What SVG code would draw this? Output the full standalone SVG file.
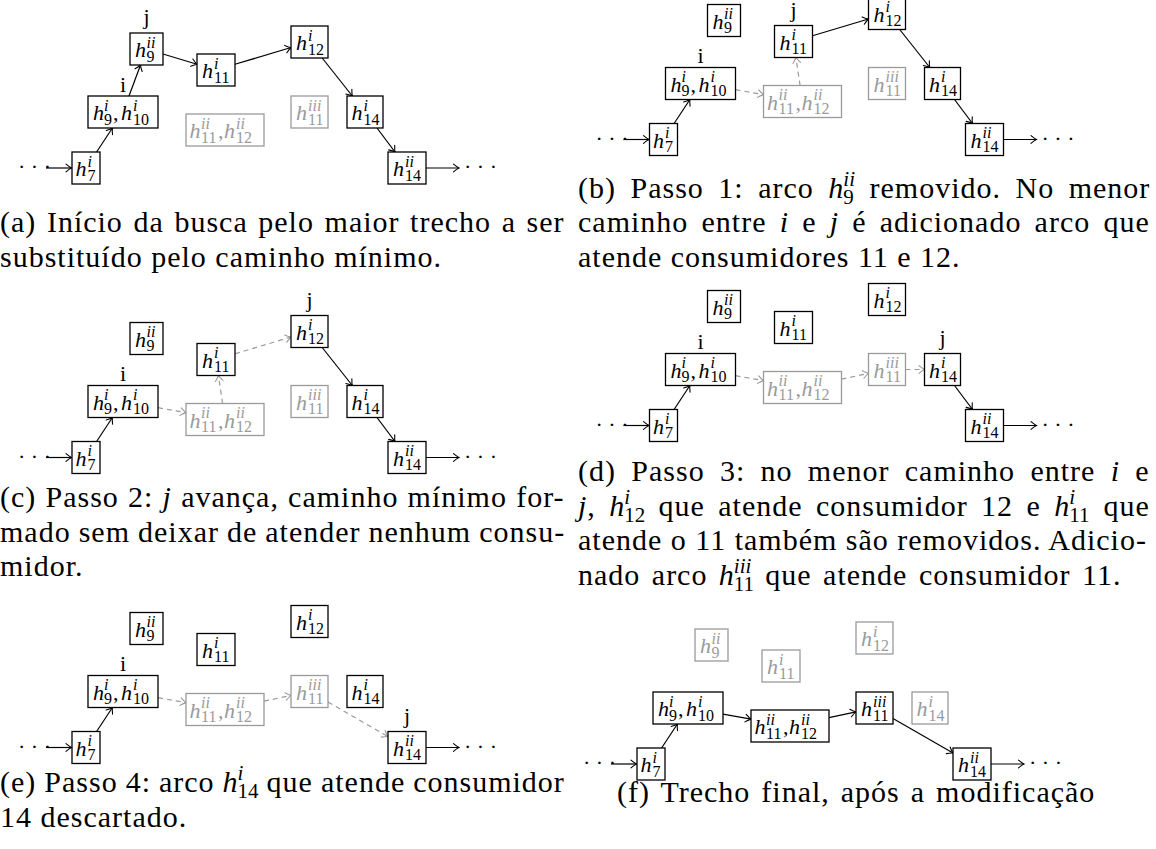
<svg xmlns="http://www.w3.org/2000/svg" width="1156" height="849" viewBox="0 0 1156 849" font-family="Liberation Serif">
<style>
text{font-family:'Liberation Serif'}
.k{color:#000}
.g{color:#9a9a9a}
.bx{fill:#fff;stroke:currentColor;stroke-width:1.3}
.n{font-size:22px;font-style:italic;fill:currentColor}
.sp{font-size:16px;font-style:italic}
.sb{font-size:16px;font-style:normal}
.up{font-style:normal}
.lb{font-size:22px;text-anchor:middle;fill:#000}
.dots{font-size:22px;fill:#000}
.e{fill:none;stroke:#000;stroke-width:1.2;marker-end:url(#ah)}
.ed{fill:none;stroke:#9a9a9a;stroke-width:1.2;stroke-dasharray:5 4;marker-end:url(#gah)}
.cap{font-size:30px;fill:#000;letter-spacing:1px}
.ci{font-style:italic}
.cm{font-size:30px;font-style:italic;fill:#000}
.cs{font-size:21px;font-style:italic;fill:#000}
.cd{font-size:21px;fill:#000}
</style>
<defs>
<marker id="ah" markerUnits="userSpaceOnUse" viewBox="-8 -6 10 12" markerWidth="10" markerHeight="12" refX="0" refY="0" orient="auto" overflow="visible">
<path d="M-5.5,-3.8 Q-2,-0.9 0,0 Q-2,0.9 -5.5,3.8" fill="none" stroke="#000" stroke-width="1.1" stroke-linecap="round"/>
</marker>
<marker id="gah" markerUnits="userSpaceOnUse" viewBox="-8 -6 10 12" markerWidth="10" markerHeight="12" refX="0" refY="0" orient="auto" overflow="visible">
<path d="M-5.5,-3.8 Q-2,-0.9 0,0 Q-2,0.9 -5.5,3.8" fill="none" stroke="#9a9a9a" stroke-width="1.1" stroke-linecap="round"/>
</marker>
</defs>

<!-- Panel (a) -->
<g id="panel-a">
<g id="a-edges">
<path class="e" d="M46,168 H71.5"/>
<path class="e" d="M96.6,152 L112.4,128"/>
<path class="e" d="M129,96 L140.5,65"/>
<path class="e" d="M163,54 L197,64.3"/>
<path class="e" d="M235,64.3 L291,47.5"/>
<path class="e" d="M322.2,58 L352.3,96"/>
<path class="e" d="M377,128 L395,152"/>
<path class="e" d="M426,168 H459"/>
</g>
<text class="dots" font-family="Liberation Serif" x="18" y="174">· · ·</text>
<text class="dots" font-family="Liberation Serif" x="464" y="174">· · ·</text>
<g id="a-h7" class="k" transform="translate(72 152)"><rect class="bx" width="28" height="32"/><text class="n" font-family="Liberation Serif" x="3.5" y="24">h<tspan class="sp" x="15.5" y="14.5">i</tspan><tspan class="sb" x="15.5" y="28.5">7</tspan></text></g>
<g id="a-h9h10" class="k" transform="translate(88 96)"><rect class="bx" width="70" height="32"/><text class="n" font-family="Liberation Serif" x="5" y="24">h<tspan class="sp" x="16" y="14.5">i</tspan><tspan class="sb" x="16" y="28.5">9</tspan><tspan class="up" x="25" y="24">,</tspan><tspan x="33" y="24">h</tspan><tspan class="sp" x="45" y="14.5">i</tspan><tspan class="sb" x="45" y="28.5">10</tspan></text></g>
<g id="a-h9ii" class="k" transform="translate(130 33)"><rect class="bx" width="33" height="32"/><text class="n" font-family="Liberation Serif" x="5" y="24">h<tspan class="sp" x="16.5" y="14.5">ii</tspan><tspan class="sb" x="16.5" y="28.5">9</tspan></text></g>
<g id="a-h11i" class="k" transform="translate(197 54)"><rect class="bx" width="38" height="32"/><text class="n" font-family="Liberation Serif" x="5" y="24">h<tspan class="sp" x="17" y="14.5">i</tspan><tspan class="sb" x="17" y="28.5">11</tspan></text></g>
<g id="a-h11h12" class="g" transform="translate(186 114)"><rect class="bx" width="78" height="32"/><text class="n" font-family="Liberation Serif" x="3.5" y="24">h<tspan class="sp" x="15" y="14.5">ii</tspan><tspan class="sb" x="15" y="28.5">11</tspan><tspan class="up" x="32" y="24">,</tspan><tspan x="38" y="24">h</tspan><tspan class="sp" x="50" y="14.5">ii</tspan><tspan class="sb" x="50" y="28.5">12</tspan></text></g>
<g id="a-h12i" class="k" transform="translate(291 26)"><rect class="bx" width="37" height="32"/><text class="n" font-family="Liberation Serif" x="5" y="24">h<tspan class="sp" x="17" y="14.5">i</tspan><tspan class="sb" x="17" y="28.5">12</tspan></text></g>
<g id="a-h11iii" class="g" transform="translate(291 96)"><rect class="bx" width="37" height="32"/><text class="n" font-family="Liberation Serif" x="5" y="24">h<tspan class="sp" x="17" y="14.5">iii</tspan><tspan class="sb" x="17" y="28.5">11</tspan></text></g>
<g id="a-h14i" class="k" transform="translate(347 96)"><rect class="bx" width="36" height="32"/><text class="n" font-family="Liberation Serif" x="4.5" y="24">h<tspan class="sp" x="16.5" y="14.5">i</tspan><tspan class="sb" x="16.5" y="28.5">14</tspan></text></g>
<g id="a-h14ii" class="k" transform="translate(388 152)"><rect class="bx" width="38" height="32"/><text class="n" font-family="Liberation Serif" x="5" y="24">h<tspan class="sp" x="17" y="14.5">ii</tspan><tspan class="sb" x="17" y="28.5">14</tspan></text></g>
<text class="lb" font-family="Liberation Serif" x="123" y="91.5">i</text>
<text class="lb" font-family="Liberation Serif" x="146.5" y="24">j</text>
</g>

<!-- Panel (b) -->
<g id="panel-b" transform="translate(577.5,-28.5)">
<g id="b-edges">
<path class="e" d="M46,168 H71.5"/>
<path class="e" d="M96.6,152 L112.4,128"/>
<path class="ed" d="M158,118.2 L186,123.1"/>
<path class="ed" d="M222.6,114 L218.4,86"/>
<path class="e" d="M235,64.3 L291,47.5"/>
<path class="e" d="M322.2,58 L352.3,96"/>
<path class="e" d="M377,128 L395,152"/>
<path class="e" d="M426,168 H459"/>
</g>
<text class="dots" font-family="Liberation Serif" x="18" y="174">· · ·</text>
<text class="dots" font-family="Liberation Serif" x="464" y="174">· · ·</text>
<g id="b-h7" class="k" transform="translate(72 152)"><rect class="bx" width="28" height="32"/><text class="n" font-family="Liberation Serif" x="3.5" y="24">h<tspan class="sp" x="15.5" y="14.5">i</tspan><tspan class="sb" x="15.5" y="28.5">7</tspan></text></g>
<g id="b-h9h10" class="k" transform="translate(88 96)"><rect class="bx" width="70" height="32"/><text class="n" font-family="Liberation Serif" x="5" y="24">h<tspan class="sp" x="16" y="14.5">i</tspan><tspan class="sb" x="16" y="28.5">9</tspan><tspan class="up" x="25" y="24">,</tspan><tspan x="33" y="24">h</tspan><tspan class="sp" x="45" y="14.5">i</tspan><tspan class="sb" x="45" y="28.5">10</tspan></text></g>
<g id="b-h9ii" class="k" transform="translate(130 33)"><rect class="bx" width="33" height="32"/><text class="n" font-family="Liberation Serif" x="5" y="24">h<tspan class="sp" x="16.5" y="14.5">ii</tspan><tspan class="sb" x="16.5" y="28.5">9</tspan></text></g>
<g id="b-h11i" class="k" transform="translate(197 54)"><rect class="bx" width="38" height="32"/><text class="n" font-family="Liberation Serif" x="5" y="24">h<tspan class="sp" x="17" y="14.5">i</tspan><tspan class="sb" x="17" y="28.5">11</tspan></text></g>
<g id="b-h11h12" class="g" transform="translate(186 114)"><rect class="bx" width="78" height="32"/><text class="n" font-family="Liberation Serif" x="3.5" y="24">h<tspan class="sp" x="15" y="14.5">ii</tspan><tspan class="sb" x="15" y="28.5">11</tspan><tspan class="up" x="32" y="24">,</tspan><tspan x="38" y="24">h</tspan><tspan class="sp" x="50" y="14.5">ii</tspan><tspan class="sb" x="50" y="28.5">12</tspan></text></g>
<g id="b-h12i" class="k" transform="translate(291 26)"><rect class="bx" width="37" height="32"/><text class="n" font-family="Liberation Serif" x="5" y="24">h<tspan class="sp" x="17" y="14.5">i</tspan><tspan class="sb" x="17" y="28.5">12</tspan></text></g>
<g id="b-h11iii" class="g" transform="translate(291 96)"><rect class="bx" width="37" height="32"/><text class="n" font-family="Liberation Serif" x="5" y="24">h<tspan class="sp" x="17" y="14.5">iii</tspan><tspan class="sb" x="17" y="28.5">11</tspan></text></g>
<g id="b-h14i" class="k" transform="translate(347 96)"><rect class="bx" width="36" height="32"/><text class="n" font-family="Liberation Serif" x="4.5" y="24">h<tspan class="sp" x="16.5" y="14.5">i</tspan><tspan class="sb" x="16.5" y="28.5">14</tspan></text></g>
<g id="b-h14ii" class="k" transform="translate(388 152)"><rect class="bx" width="38" height="32"/><text class="n" font-family="Liberation Serif" x="5" y="24">h<tspan class="sp" x="17" y="14.5">ii</tspan><tspan class="sb" x="17" y="28.5">14</tspan></text></g>
<text class="lb" font-family="Liberation Serif" x="123" y="91.5">i</text>
<text class="lb" font-family="Liberation Serif" x="216" y="45">j</text>
</g>

<!-- Panel (c) -->
<g id="panel-c" transform="translate(0,289.5)">
<g id="c-edges">
<path class="e" d="M46,168 H71.5"/>
<path class="e" d="M96.6,152 L112.4,128"/>
<path class="ed" d="M158,118.2 L186,123.1"/>
<path class="ed" d="M222.6,114 L218.4,86"/>
<path class="ed" d="M235,64.3 L291,47.5"/>
<path class="e" d="M322.2,58 L352.3,96"/>
<path class="e" d="M377,128 L395,152"/>
<path class="e" d="M426,168 H459"/>
</g>
<text class="dots" font-family="Liberation Serif" x="18" y="174">· · ·</text>
<text class="dots" font-family="Liberation Serif" x="464" y="174">· · ·</text>
<g id="c-h7" class="k" transform="translate(72 152)"><rect class="bx" width="28" height="32"/><text class="n" font-family="Liberation Serif" x="3.5" y="24">h<tspan class="sp" x="15.5" y="14.5">i</tspan><tspan class="sb" x="15.5" y="28.5">7</tspan></text></g>
<g id="c-h9h10" class="k" transform="translate(88 96)"><rect class="bx" width="70" height="32"/><text class="n" font-family="Liberation Serif" x="5" y="24">h<tspan class="sp" x="16" y="14.5">i</tspan><tspan class="sb" x="16" y="28.5">9</tspan><tspan class="up" x="25" y="24">,</tspan><tspan x="33" y="24">h</tspan><tspan class="sp" x="45" y="14.5">i</tspan><tspan class="sb" x="45" y="28.5">10</tspan></text></g>
<g id="c-h9ii" class="k" transform="translate(130 33)"><rect class="bx" width="33" height="32"/><text class="n" font-family="Liberation Serif" x="5" y="24">h<tspan class="sp" x="16.5" y="14.5">ii</tspan><tspan class="sb" x="16.5" y="28.5">9</tspan></text></g>
<g id="c-h11i" class="k" transform="translate(197 54)"><rect class="bx" width="38" height="32"/><text class="n" font-family="Liberation Serif" x="5" y="24">h<tspan class="sp" x="17" y="14.5">i</tspan><tspan class="sb" x="17" y="28.5">11</tspan></text></g>
<g id="c-h11h12" class="g" transform="translate(186 114)"><rect class="bx" width="78" height="32"/><text class="n" font-family="Liberation Serif" x="3.5" y="24">h<tspan class="sp" x="15" y="14.5">ii</tspan><tspan class="sb" x="15" y="28.5">11</tspan><tspan class="up" x="32" y="24">,</tspan><tspan x="38" y="24">h</tspan><tspan class="sp" x="50" y="14.5">ii</tspan><tspan class="sb" x="50" y="28.5">12</tspan></text></g>
<g id="c-h12i" class="k" transform="translate(291 26)"><rect class="bx" width="37" height="32"/><text class="n" font-family="Liberation Serif" x="5" y="24">h<tspan class="sp" x="17" y="14.5">i</tspan><tspan class="sb" x="17" y="28.5">12</tspan></text></g>
<g id="c-h11iii" class="g" transform="translate(291 96)"><rect class="bx" width="37" height="32"/><text class="n" font-family="Liberation Serif" x="5" y="24">h<tspan class="sp" x="17" y="14.5">iii</tspan><tspan class="sb" x="17" y="28.5">11</tspan></text></g>
<g id="c-h14i" class="k" transform="translate(347 96)"><rect class="bx" width="36" height="32"/><text class="n" font-family="Liberation Serif" x="4.5" y="24">h<tspan class="sp" x="16.5" y="14.5">i</tspan><tspan class="sb" x="16.5" y="28.5">14</tspan></text></g>
<g id="c-h14ii" class="k" transform="translate(388 152)"><rect class="bx" width="38" height="32"/><text class="n" font-family="Liberation Serif" x="5" y="24">h<tspan class="sp" x="17" y="14.5">ii</tspan><tspan class="sb" x="17" y="28.5">14</tspan></text></g>
<text class="lb" font-family="Liberation Serif" x="123" y="91.5">i</text>
<text class="lb" font-family="Liberation Serif" x="309.5" y="17">j</text>
</g>

<!-- Panel (d) -->
<g id="panel-d" transform="translate(577.5,257.5)">
<g id="d-edges">
<path class="e" d="M46,168 H71.5"/>
<path class="e" d="M96.6,152 L112.4,128"/>
<path class="ed" d="M158,118.2 L186,123.1"/>
<path class="ed" d="M264,121.7 L291,115.9"/>
<path class="ed" d="M328,112 L347,112"/>
<path class="e" d="M377,128 L395,152"/>
<path class="e" d="M426,168 H459"/>
</g>
<text class="dots" font-family="Liberation Serif" x="18" y="174">· · ·</text>
<text class="dots" font-family="Liberation Serif" x="464" y="174">· · ·</text>
<g id="d-h7" class="k" transform="translate(72 152)"><rect class="bx" width="28" height="32"/><text class="n" font-family="Liberation Serif" x="3.5" y="24">h<tspan class="sp" x="15.5" y="14.5">i</tspan><tspan class="sb" x="15.5" y="28.5">7</tspan></text></g>
<g id="d-h9h10" class="k" transform="translate(88 96)"><rect class="bx" width="70" height="32"/><text class="n" font-family="Liberation Serif" x="5" y="24">h<tspan class="sp" x="16" y="14.5">i</tspan><tspan class="sb" x="16" y="28.5">9</tspan><tspan class="up" x="25" y="24">,</tspan><tspan x="33" y="24">h</tspan><tspan class="sp" x="45" y="14.5">i</tspan><tspan class="sb" x="45" y="28.5">10</tspan></text></g>
<g id="d-h9ii" class="k" transform="translate(130 33)"><rect class="bx" width="33" height="32"/><text class="n" font-family="Liberation Serif" x="5" y="24">h<tspan class="sp" x="16.5" y="14.5">ii</tspan><tspan class="sb" x="16.5" y="28.5">9</tspan></text></g>
<g id="d-h11i" class="k" transform="translate(197 54)"><rect class="bx" width="38" height="32"/><text class="n" font-family="Liberation Serif" x="5" y="24">h<tspan class="sp" x="17" y="14.5">i</tspan><tspan class="sb" x="17" y="28.5">11</tspan></text></g>
<g id="d-h11h12" class="g" transform="translate(186 114)"><rect class="bx" width="78" height="32"/><text class="n" font-family="Liberation Serif" x="3.5" y="24">h<tspan class="sp" x="15" y="14.5">ii</tspan><tspan class="sb" x="15" y="28.5">11</tspan><tspan class="up" x="32" y="24">,</tspan><tspan x="38" y="24">h</tspan><tspan class="sp" x="50" y="14.5">ii</tspan><tspan class="sb" x="50" y="28.5">12</tspan></text></g>
<g id="d-h12i" class="k" transform="translate(291 26)"><rect class="bx" width="37" height="32"/><text class="n" font-family="Liberation Serif" x="5" y="24">h<tspan class="sp" x="17" y="14.5">i</tspan><tspan class="sb" x="17" y="28.5">12</tspan></text></g>
<g id="d-h11iii" class="g" transform="translate(291 96)"><rect class="bx" width="37" height="32"/><text class="n" font-family="Liberation Serif" x="5" y="24">h<tspan class="sp" x="17" y="14.5">iii</tspan><tspan class="sb" x="17" y="28.5">11</tspan></text></g>
<g id="d-h14i" class="k" transform="translate(347 96)"><rect class="bx" width="36" height="32"/><text class="n" font-family="Liberation Serif" x="4.5" y="24">h<tspan class="sp" x="16.5" y="14.5">i</tspan><tspan class="sb" x="16.5" y="28.5">14</tspan></text></g>
<g id="d-h14ii" class="k" transform="translate(388 152)"><rect class="bx" width="38" height="32"/><text class="n" font-family="Liberation Serif" x="5" y="24">h<tspan class="sp" x="17" y="14.5">ii</tspan><tspan class="sb" x="17" y="28.5">14</tspan></text></g>
<text class="lb" font-family="Liberation Serif" x="123" y="91.5">i</text>
<text class="lb" font-family="Liberation Serif" x="365" y="87">j</text>
</g>

<!-- Panel (e) -->
<g id="panel-e" transform="translate(0,579.5)">
<g id="e-edges">
<path class="e" d="M46,168 H71.5"/>
<path class="e" d="M96.6,152 L112.4,128"/>
<path class="ed" d="M158,118.2 L186,123.1"/>
<path class="ed" d="M264,121.7 L291,115.9"/>
<path class="ed" d="M328,122.6 L388,157.1"/>
<path class="e" d="M426,168 H459"/>
</g>
<text class="dots" font-family="Liberation Serif" x="18" y="174">· · ·</text>
<text class="dots" font-family="Liberation Serif" x="464" y="174">· · ·</text>
<g id="e-h7" class="k" transform="translate(72 152)"><rect class="bx" width="28" height="32"/><text class="n" font-family="Liberation Serif" x="3.5" y="24">h<tspan class="sp" x="15.5" y="14.5">i</tspan><tspan class="sb" x="15.5" y="28.5">7</tspan></text></g>
<g id="e-h9h10" class="k" transform="translate(88 96)"><rect class="bx" width="70" height="32"/><text class="n" font-family="Liberation Serif" x="5" y="24">h<tspan class="sp" x="16" y="14.5">i</tspan><tspan class="sb" x="16" y="28.5">9</tspan><tspan class="up" x="25" y="24">,</tspan><tspan x="33" y="24">h</tspan><tspan class="sp" x="45" y="14.5">i</tspan><tspan class="sb" x="45" y="28.5">10</tspan></text></g>
<g id="e-h9ii" class="k" transform="translate(130 33)"><rect class="bx" width="33" height="32"/><text class="n" font-family="Liberation Serif" x="5" y="24">h<tspan class="sp" x="16.5" y="14.5">ii</tspan><tspan class="sb" x="16.5" y="28.5">9</tspan></text></g>
<g id="e-h11i" class="k" transform="translate(197 54)"><rect class="bx" width="38" height="32"/><text class="n" font-family="Liberation Serif" x="5" y="24">h<tspan class="sp" x="17" y="14.5">i</tspan><tspan class="sb" x="17" y="28.5">11</tspan></text></g>
<g id="e-h11h12" class="g" transform="translate(186 114)"><rect class="bx" width="78" height="32"/><text class="n" font-family="Liberation Serif" x="3.5" y="24">h<tspan class="sp" x="15" y="14.5">ii</tspan><tspan class="sb" x="15" y="28.5">11</tspan><tspan class="up" x="32" y="24">,</tspan><tspan x="38" y="24">h</tspan><tspan class="sp" x="50" y="14.5">ii</tspan><tspan class="sb" x="50" y="28.5">12</tspan></text></g>
<g id="e-h12i" class="k" transform="translate(291 26)"><rect class="bx" width="37" height="32"/><text class="n" font-family="Liberation Serif" x="5" y="24">h<tspan class="sp" x="17" y="14.5">i</tspan><tspan class="sb" x="17" y="28.5">12</tspan></text></g>
<g id="e-h11iii" class="g" transform="translate(291 96)"><rect class="bx" width="37" height="32"/><text class="n" font-family="Liberation Serif" x="5" y="24">h<tspan class="sp" x="17" y="14.5">iii</tspan><tspan class="sb" x="17" y="28.5">11</tspan></text></g>
<g id="e-h14i" class="k" transform="translate(347 96)"><rect class="bx" width="36" height="32"/><text class="n" font-family="Liberation Serif" x="4.5" y="24">h<tspan class="sp" x="16.5" y="14.5">i</tspan><tspan class="sb" x="16.5" y="28.5">14</tspan></text></g>
<g id="e-h14ii" class="k" transform="translate(388 152)"><rect class="bx" width="38" height="32"/><text class="n" font-family="Liberation Serif" x="5" y="24">h<tspan class="sp" x="17" y="14.5">ii</tspan><tspan class="sb" x="17" y="28.5">14</tspan></text></g>
<text class="lb" font-family="Liberation Serif" x="123" y="91.5">i</text>
<text class="lb" font-family="Liberation Serif" x="407" y="143">j</text>
</g>

<!-- Panel (f) -->
<g id="panel-f" transform="translate(565,596)">
<g id="f-edges">
<path class="e" d="M46,168 H71.5"/>
<path class="e" d="M96.6,152 L112.4,128"/>
<path class="e" d="M158,118.2 L186,123.1"/>
<path class="e" d="M264,121.7 L291,115.9"/>
<path class="e" d="M328,122.6 L388,157.1"/>
<path class="e" d="M426,168 H459"/>
</g>
<text class="dots" font-family="Liberation Serif" x="18" y="174">· · ·</text>
<text class="dots" font-family="Liberation Serif" x="464" y="174">· · ·</text>
<g id="f-h7" class="k" transform="translate(72 152)"><rect class="bx" width="28" height="32"/><text class="n" font-family="Liberation Serif" x="3.5" y="24">h<tspan class="sp" x="15.5" y="14.5">i</tspan><tspan class="sb" x="15.5" y="28.5">7</tspan></text></g>
<g id="f-h9h10" class="k" transform="translate(88 96)"><rect class="bx" width="70" height="32"/><text class="n" font-family="Liberation Serif" x="5" y="24">h<tspan class="sp" x="16" y="14.5">i</tspan><tspan class="sb" x="16" y="28.5">9</tspan><tspan class="up" x="25" y="24">,</tspan><tspan x="33" y="24">h</tspan><tspan class="sp" x="45" y="14.5">i</tspan><tspan class="sb" x="45" y="28.5">10</tspan></text></g>
<g id="f-h9ii" class="g" transform="translate(130 33)"><rect class="bx" width="33" height="32"/><text class="n" font-family="Liberation Serif" x="5" y="24">h<tspan class="sp" x="16.5" y="14.5">ii</tspan><tspan class="sb" x="16.5" y="28.5">9</tspan></text></g>
<g id="f-h11i" class="g" transform="translate(197 54)"><rect class="bx" width="38" height="32"/><text class="n" font-family="Liberation Serif" x="5" y="24">h<tspan class="sp" x="17" y="14.5">i</tspan><tspan class="sb" x="17" y="28.5">11</tspan></text></g>
<g id="f-h11h12" class="k" transform="translate(186 114)"><rect class="bx" width="78" height="32"/><text class="n" font-family="Liberation Serif" x="3.5" y="24">h<tspan class="sp" x="15" y="14.5">ii</tspan><tspan class="sb" x="15" y="28.5">11</tspan><tspan class="up" x="32" y="24">,</tspan><tspan x="38" y="24">h</tspan><tspan class="sp" x="50" y="14.5">ii</tspan><tspan class="sb" x="50" y="28.5">12</tspan></text></g>
<g id="f-h12i" class="g" transform="translate(291 26)"><rect class="bx" width="37" height="32"/><text class="n" font-family="Liberation Serif" x="5" y="24">h<tspan class="sp" x="17" y="14.5">i</tspan><tspan class="sb" x="17" y="28.5">12</tspan></text></g>
<g id="f-h11iii" class="k" transform="translate(291 96)"><rect class="bx" width="37" height="32"/><text class="n" font-family="Liberation Serif" x="5" y="24">h<tspan class="sp" x="17" y="14.5">iii</tspan><tspan class="sb" x="17" y="28.5">11</tspan></text></g>
<g id="f-h14i" class="g" transform="translate(347 96)"><rect class="bx" width="36" height="32"/><text class="n" font-family="Liberation Serif" x="4.5" y="24">h<tspan class="sp" x="16.5" y="14.5">i</tspan><tspan class="sb" x="16.5" y="28.5">14</tspan></text></g>
<g id="f-h14ii" class="k" transform="translate(388 152)"><rect class="bx" width="38" height="32"/><text class="n" font-family="Liberation Serif" x="5" y="24">h<tspan class="sp" x="17" y="14.5">ii</tspan><tspan class="sb" x="17" y="28.5">14</tspan></text></g>
</g>

<!-- Captions -->
<g id="captions">
<text class="cap" font-family="Liberation Serif" x="0" y="232" word-spacing="2.1">(a) Início da busca pelo maior trecho a ser</text>
<text class="cap" font-family="Liberation Serif" x="0" y="266.5">substituído pelo caminho mínimo.</text>

<text class="cap" font-family="Liberation Serif" x="578" y="197.5" word-spacing="6">(b) Passo 1: arco</text>
<text class="cm" font-family="Liberation Serif" x="828.3" y="197.5">h</text><text class="cs" font-family="Liberation Serif" x="843.3" y="185.5">ii</text><text class="cd" font-family="Liberation Serif" x="843.3" y="203.5">9</text>
<text class="cap" font-family="Liberation Serif" x="869.5" y="197.5" word-spacing="6">removido. No menor</text>
<text class="cap" font-family="Liberation Serif" x="578" y="232" word-spacing="4.7">caminho entre <tspan class="ci">i</tspan> e <tspan class="ci">j</tspan> é adicionado arco que</text>
<text class="cap" font-family="Liberation Serif" x="578" y="266.5" letter-spacing="0.65">atende consumidores 11 e 12.</text>

<text class="cap" font-family="Liberation Serif" x="0" y="507" word-spacing="0.7">(c) Passo 2: <tspan class="ci">j</tspan> avança, caminho mínimo for-</text>
<text class="cap" font-family="Liberation Serif" x="0" y="541.5" word-spacing="-0.5">mado sem deixar de atender nenhum consu-</text>
<text class="cap" font-family="Liberation Serif" x="0" y="576" letter-spacing="0.6">midor.</text>

<text class="cap" font-family="Liberation Serif" x="578" y="481" word-spacing="6.8">(d) Passo 3: no menor caminho entre <tspan class="ci">i</tspan> e</text>
<text class="cap" font-family="Liberation Serif" x="578" y="515.5"><tspan class="ci">j</tspan>,</text>
<text class="cm" font-family="Liberation Serif" x="609.2" y="515.5">h</text><text class="cs" font-family="Liberation Serif" x="624.2" y="503.5">i</text><text class="cd" font-family="Liberation Serif" x="624.2" y="521.5">12</text>
<text class="cap" font-family="Liberation Serif" x="658.6" y="515.5" word-spacing="4.9">que atende consumidor 12 e</text>
<text class="cm" font-family="Liberation Serif" x="1054.2" y="515.5">h</text><text class="cs" font-family="Liberation Serif" x="1069.2" y="503.5">i</text><text class="cd" font-family="Liberation Serif" x="1069.2" y="521.5">11</text>
<text class="cap" font-family="Liberation Serif" x="1103.6" y="515.5">que</text>
<text class="cap" font-family="Liberation Serif" x="578" y="550">atende o 11 também são removidos. Adicio-</text>
<text class="cap" font-family="Liberation Serif" x="578" y="584.5" letter-spacing="1.1" word-spacing="3">nado arco</text>
<text class="cm" font-family="Liberation Serif" x="718.8" y="584.5">h</text><text class="cs" font-family="Liberation Serif" x="733.8" y="572.5">iii</text><text class="cd" font-family="Liberation Serif" x="733.8" y="590.5">11</text>
<text class="cap" font-family="Liberation Serif" x="765.3" y="584.5" letter-spacing="1.1" word-spacing="3">que atende consumidor 11.</text>

<text class="cap" font-family="Liberation Serif" x="0" y="792" word-spacing="-0.5">(e) Passo 4: arco</text>
<text class="cm" font-family="Liberation Serif" x="222.6" y="792">h</text><text class="cs" font-family="Liberation Serif" x="237.6" y="780">i</text><text class="cd" font-family="Liberation Serif" x="237.6" y="798">14</text>
<text class="cap" font-family="Liberation Serif" x="266.6" y="792" word-spacing="-0.5">que atende consumidor</text>
<text class="cap" font-family="Liberation Serif" x="0" y="826.5" letter-spacing="0.33">14 descartado.</text>

<text class="cap" font-family="Liberation Serif" x="617" y="802" letter-spacing="1.3" word-spacing="2.5">(f) Trecho final, após a modificação</text>
</g>
</svg>
